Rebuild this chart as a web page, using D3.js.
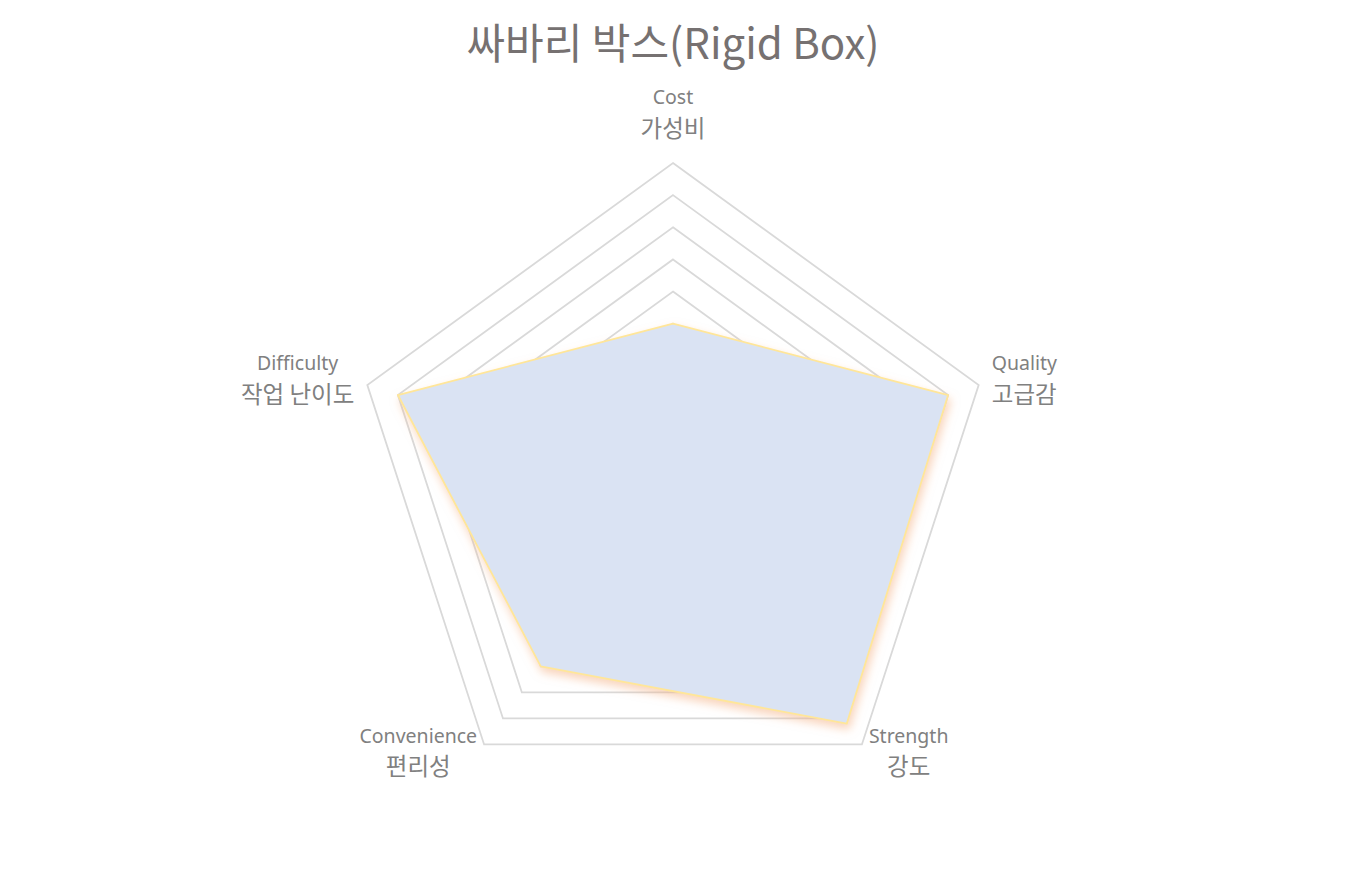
<!DOCTYPE html>
<html><head><meta charset="utf-8">
<script src="https://cdn.jsdelivr.net/npm/d3@7"></script>
<style>
html,body{margin:0;padding:0;background:#fff;}
svg{display:block;}
</style>
</head><body>
<svg id="chart" width="1347" height="890"></svg>
<script>
const title = "싸바리 박스(Rigid Box)";
const axesEn = ["Cost", "Quality", "Strength", "Convenience", "Difficulty"];
const axesKo = ["가성비", "고급감", "강도", "편리성", "작업 난이도"];
const values = [2.5, 4.5, 4.6, 3.5, 4.5];
const gridLevels = [0.5, 1, 1.5, 2, 2.5, 3, 3.5, 4, 4.5, 5];
const maxValue = 5;

const svg = d3.select("#chart");
const cx = 673, cy = 484.4, R = 321.4;
const fontKo = "'Noto Sans CJK KR', 'Noto Sans', sans-serif";
const fontEn = "'Noto Sans', 'Noto Sans CJK KR', sans-serif";

const r = d3.scaleLinear().domain([0, maxValue]).range([0, R]);
const angle = d3.scaleLinear().domain([0, axesEn.length]).range([0, 2 * Math.PI]);

const pt = (i, v) => {
  const a = angle(i);
  return [cx + r(v) * Math.sin(a), cy - r(v) * Math.cos(a)];
};

const defs = svg.append("defs");
const f = defs.append("filter").attr("id", "glow")
  .attr("x", "-20%").attr("y", "-20%").attr("width", "140%").attr("height", "140%");
f.append("feDropShadow").attr("dx", 2).attr("dy", 5).attr("stdDeviation", 5)
  .attr("flood-color", "#F4B183").attr("flood-opacity", 0.55);

// title
svg.append("text").attr("x", 673).attr("y", 59)
  .attr("text-anchor", "middle").attr("font-family", fontKo)
  .attr("font-size", 42).attr("fill", "#767171").text(title);

// grid rings
const line = d3.line();
svg.append("g").selectAll("path").data(gridLevels).join("path")
  .attr("d", lv => line(axesEn.map((_, i) => pt(i, lv))) + "Z")
  .attr("fill", "none").attr("stroke", "#D9D9D9").attr("stroke-width", 1.8);

// data polygon
svg.append("path")
  .attr("d", line(values.map((v, i) => pt(i, v))) + "Z")
  .attr("fill", "#DAE3F3").attr("stroke", "#FFE699").attr("stroke-width", 1.8)
  .attr("stroke-linejoin", "round")
  .attr("filter", "url(#glow)");

// labels
const lab = svg.append("g");
axesEn.forEach((en, i) => {
  const [vx, vy] = pt(i, maxValue);
  const a = angle(i);
  const s = Math.sin(a), c = Math.cos(a);
  const g = lab.append("g");
  const t1 = g.append("text").attr("text-anchor", "middle").attr("font-family", fontEn)
    .attr("font-size", 19.5).attr("fill", "#808080").text(en);
  const t2 = g.append("text").attr("text-anchor", "middle").attr("font-family", fontKo)
    .attr("font-size", 23.5).attr("fill", "#808080").text(axesKo[i]);
  const w = Math.max(t1.node().getComputedTextLength(), t2.node().getComputedTextLength());
  let bx, enY;
  if (c > 0.9) { bx = vx; enY = vy - 66; }
  else if (c > 0) { bx = vx + (s > 0 ? 1 : -1) * (13 + w / 2); enY = vy - 22; }
  else { bx = vx + (s > 0 ? 1 : -1) * (7 + w / 2); enY = vy - 8.5; }
  t1.attr("x", bx).attr("y", enY + 7);
  t2.attr("x", bx).attr("y", enY + 31 + 8.5);
});
</script>
</body></html>
